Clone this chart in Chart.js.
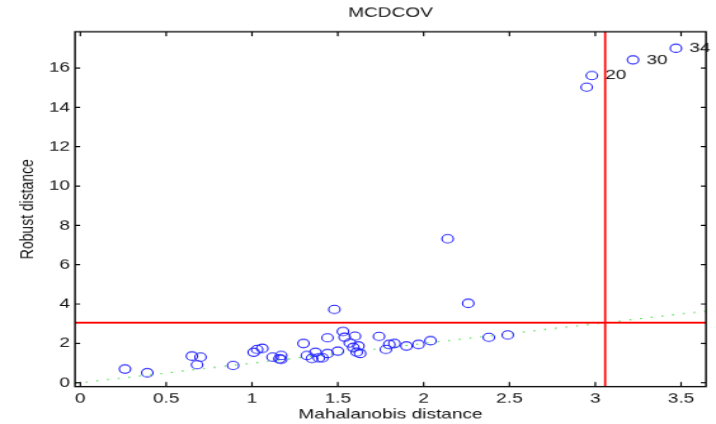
<!DOCTYPE html>
<html>
<head>
<meta charset="utf-8">
<script src="https://cdn.jsdelivr.net/npm/chart.js@4.4.1/dist/chart.umd.min.js"></script>
<style>
  html, body { margin: 0; padding: 0; background: #fff; }
</style>
</head>
<body>
<!-- the original figure is stretched sideways, so draw small and scale with css -->
<canvas id="chart" width="564" height="456" style="width:716px;height:424px;display:block"></canvas>
<script>
// observations
const mahDist = [0.26, 0.39, 0.65, 0.70, 0.68, 0.89, 1.01, 1.03, 1.06, 1.12, 1.16, 1.17, 1.17,
  1.30, 1.32, 1.35, 1.37, 1.39, 1.41, 1.44, 1.44, 1.48, 1.50, 1.53, 1.54, 1.57, 1.60, 1.59,
  1.62, 1.61, 1.63, 1.74, 1.78, 1.80, 1.83, 1.90, 1.97, 2.04, 2.14, 2.26, 2.38, 2.49,
  2.95, 2.98, 3.22, 3.47];
const robDist = [0.70, 0.51, 1.36, 1.31, 0.92, 0.88, 1.55, 1.70, 1.75, 1.31, 1.22, 1.39, 1.19,
  2.00, 1.39, 1.24, 1.55, 1.27, 1.27, 1.49, 2.29, 3.73, 1.61, 2.61, 2.32, 2.03, 2.37, 1.80,
  1.87, 1.56, 1.49, 2.36, 1.70, 1.95, 2.00, 1.87, 1.95, 2.14, 7.32, 4.04, 2.31, 2.43,
  15.02, 15.61, 16.41, 17.00];
const obsTags = mahDist.map(() => '');
obsTags[43] = '20';
obsTags[44] = '30';
obsTags[45] = '34';

// cutoff sqrt(chi2(3, 0.975))
const cutoff = 3.0575;
const xLimits = [-0.031, 3.645];
const yLimits = [-0.19, 17.84];
const xTicks = [0, 0.5, 1, 1.5, 2, 2.5, 3, 3.5];
const yTicks = [0, 2, 4, 6, 8, 10, 12, 14, 16];

const FONT = "'Liberation Sans', Arial, sans-serif";

const points = mahDist.map((v, i) => ({ x: v, y: robDist[i] }));

// box with inward ticks + numbers next to the outliers
const framePlugin = {
  id: 'frame',
  afterDatasetsDraw(chart) {
    const { ctx, chartArea: a, scales: { x, y } } = chart;
    ctx.save();
    ctx.strokeStyle = '#000';
    ctx.lineWidth = 1.4;
    ctx.strokeRect(a.left, a.top, a.right - a.left, a.bottom - a.top);
    ctx.lineWidth = 1.2;
    ctx.beginPath();
    x.ticks.forEach(t => {
      const px = x.getPixelForValue(t.value);
      ctx.moveTo(px, a.bottom); ctx.lineTo(px, a.bottom - 5);
      ctx.moveTo(px, a.top); ctx.lineTo(px, a.top + 5);
    });
    y.ticks.forEach(t => {
      const py = y.getPixelForValue(t.value);
      ctx.moveTo(a.left, py); ctx.lineTo(a.left + 4, py);
      ctx.moveTo(a.right, py); ctx.lineTo(a.right - 4, py);
    });
    ctx.stroke();

    const meta = chart.getDatasetMeta(0);
    ctx.fillStyle = '#111';
    ctx.font = '15px ' + FONT;
    ctx.textAlign = 'left';
    ctx.textBaseline = 'middle';
    obsTags.forEach((tag, i) => {
      if (!tag) return;
      const el = meta.data[i];
      ctx.fillText(tag, el.x + 10.5, el.y);
    });
    ctx.restore();
  }
};

new Chart(document.getElementById('chart'), {
  type: 'scatter',
  data: {
    datasets: [{
      data: points,
      pointStyle: 'circle',
      pointRadius: 4.5,
      pointBorderWidth: 1.1,
      pointBorderColor: 'rgb(30,30,255)',
      pointBackgroundColor: 'rgba(0,0,0,0)',
      order: 0
    }, {
      data: [{ x: cutoff, y: yLimits[0] }, { x: cutoff, y: yLimits[1] }],
      showLine: true,
      borderColor: '#ff0000',
      borderWidth: 1.7,
      pointRadius: 0,
      order: 1
    }, {
      data: [{ x: xLimits[0], y: cutoff }, { x: xLimits[1], y: cutoff }],
      showLine: true,
      borderColor: '#ff0000',
      borderWidth: 2,
      pointRadius: 0,
      order: 1
    }, {
      data: [{ x: xLimits[0], y: xLimits[0] }, { x: xLimits[1], y: xLimits[1] }],
      showLine: true,
      borderColor: 'rgb(80,225,80)',
      borderWidth: 1.3,
      borderDash: [1.5, 7],
      pointRadius: 0,
      order: 2
    }]
  },
  options: {
    responsive: false,
    devicePixelRatio: 1,
    animation: false,
    layout: { padding: { left: 0, right: 7.9, top: 0, bottom: 0 } },
    plugins: {
      legend: { display: false },
      tooltip: { enabled: false },
      title: {
        display: true,
        text: 'MCDCOV',
        fullSize: false,
        color: '#111',
        font: { family: FONT, size: 15, weight: 'normal' },
        padding: { top: 5, bottom: 11.1 }
      }
    },
    scales: {
      x: {
        type: 'linear',
        min: xLimits[0],
        max: xLimits[1],
        afterBuildTicks: s => { s.ticks = xTicks.map(v => ({ value: v })); },
        afterFit: s => { s.height = 40.3; },
        grid: { display: false, drawTicks: false },
        border: { display: false },
        ticks: {
          color: '#111',
          padding: 3.7,
          maxRotation: 0,
          autoSkip: false,
          font: { family: FONT, size: 15 },
          callback: v => String(v)
        },
        title: {
          display: true,
          text: 'Mahalanobis distance',
          color: '#111',
          font: { family: FONT, size: 15 },
          padding: { top: 0, bottom: 1.3 }
        }
      },
      y: {
        type: 'linear',
        min: yLimits[0],
        max: yLimits[1],
        afterBuildTicks: s => { s.ticks = yTicks.map(v => ({ value: v })); },
        afterFit: s => { s.width = 59.1; },
        grid: { display: false, drawTicks: false },
        border: { display: false },
        ticks: {
          color: '#111',
          padding: 4,
          autoSkip: false,
          font: { family: FONT, size: 15 },
          callback: v => String(v)
        },
        title: {
          display: true,
          text: 'Robust distance',
          color: '#111',
          font: { family: FONT, size: 15 },
          padding: { top: 13.1, bottom: 0 }
        }
      }
    }
  },
  plugins: [framePlugin]
});
</script>
</body>
</html>
